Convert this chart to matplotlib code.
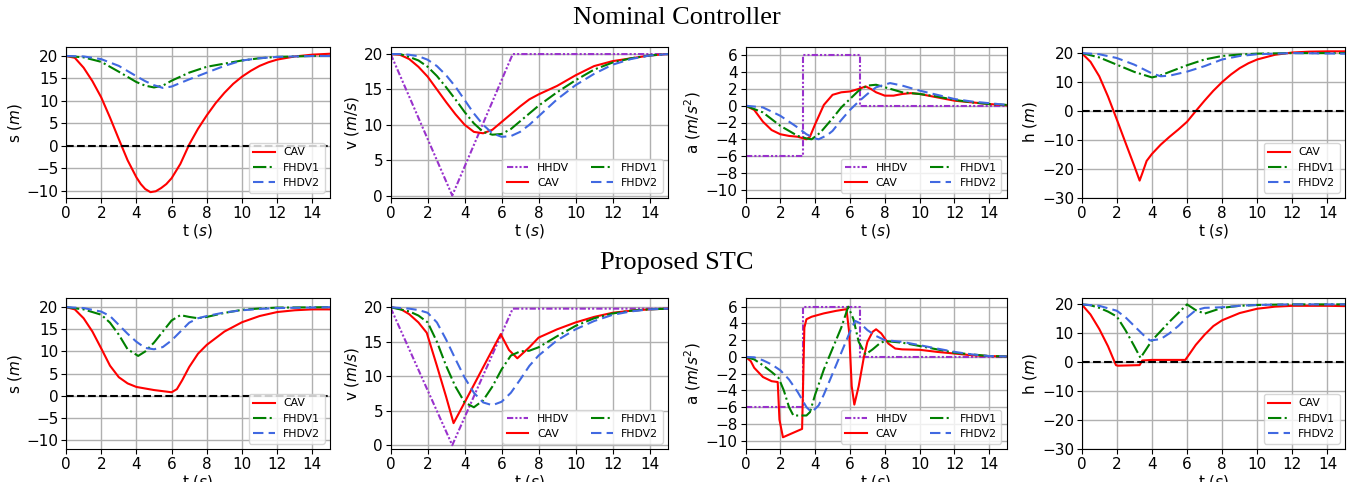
import matplotlib
matplotlib.use("Agg")
import matplotlib.pyplot as plt

# ---------------- Data ----------------
# HHDV (leading human-driven vehicle) profiles
t_hhdv_v = [0, 3.33, 6.6, 15]
v_hhdv_nom = [20, 0, 20, 20]
v_hhdv_stc = [19.9, 0, 19.8, 19.8]
t_hhdv_a = [0, 3.3, 3.3, 6.55, 6.55, 15]
a_hhdv = [-6, -6, 6, 6, 0, 0]

# ---- Nominal controller ----
t_s_nom_cav = [0, 0.5, 1, 1.5, 2, 2.5, 3, 3.5, 4, 4.25, 4.5, 4.8, 5.1, 5.4, 5.7, 6, 6.5, 7, 7.5, 8, 8.5, 9, 9.5, 10, 10.5, 11, 11.5, 12, 13, 14, 15]
s_nom_cav = [20, 19.6, 17.4, 14.4, 10.8, 6.3, 1.5, -3.2, -7.0, -8.5, -9.6, -10.3, -10.1, -9.4, -8.5, -7.2, -4.0, 0.3, 3.8, 6.8, 9.5, 11.8, 13.8, 15.4, 16.7, 17.8, 18.6, 19.2, 19.9, 20.3, 20.5]
t_s_nom_f = [0, 1, 2, 3, 4, 4.5, 5, 5.5, 6, 7, 8, 9, 10, 11, 12, 14, 15]
s_nom_f1 = [20, 19.7, 18.7, 16.5, 14.2, 13.4, 13.0, 13.4, 14.5, 16.3, 17.6, 18.3, 19.0, 19.5, 19.8, 20.0, 20.0]
s_nom_f2 = [20, 19.9, 19.3, 17.8, 15.5, 14.4, 13.5, 12.9, 13.2, 14.8, 16.3, 17.8, 19.0, 19.5, 19.8, 20.0, 20.0]

t_v_nom = [0, 0.5, 1, 1.5, 2, 2.5, 3, 3.5, 4, 4.5, 5, 5.5, 6, 6.5, 7, 7.5, 8, 9, 10, 11, 12, 13, 14, 15]
v_nom_cav = [20, 19.9, 19.3, 18.2, 16.8, 15.0, 13.2, 11.5, 10.0, 9.0, 8.8, 9.3, 10.4, 11.5, 12.6, 13.6, 14.3, 15.5, 17.0, 18.3, 19.0, 19.4, 19.8, 20]
v_nom_f1 = [20, 20.0, 19.6, 19.1, 18.2, 16.9, 15.3, 13.6, 11.8, 10.2, 9.0, 8.6, 8.7, 9.4, 10.5, 11.6, 12.7, 14.6, 16.3, 17.8, 18.8, 19.4, 19.8, 20]
v_nom_f2 = [20, 20.0, 19.9, 19.7, 19.2, 18.3, 17.0, 15.4, 13.5, 11.6, 10.0, 8.8, 8.3, 8.4, 9.0, 10.0, 11.2, 13.6, 15.6, 17.2, 18.5, 19.3, 19.8, 20]

t_a_nom_cav = [0, 0.5, 1, 1.5, 2, 2.5, 3, 3.5, 3.7, 4, 4.5, 5, 5.5, 6, 6.5, 6.9, 7.2, 7.5, 8, 8.5, 9, 9.5, 10, 11, 12, 13, 14, 15]
a_nom_cav = [0, -0.5, -1.9, -2.9, -3.4, -3.6, -3.7, -4.0, -3.7, -2.2, 0.1, 1.3, 1.6, 1.7, 2.0, 2.3, 2.0, 1.6, 1.2, 1.2, 1.4, 1.5, 1.4, 1.0, 0.6, 0.4, 0.2, 0.05]
t_a_nom_f1 = [0, 1, 2, 3, 3.5, 3.8, 4.3, 5, 5.5, 6, 6.5, 7, 7.5, 8, 9, 10, 11, 12, 13, 14, 15]
a_nom_f1 = [0, -0.8, -2.4, -3.6, -3.9, -4.0, -3.2, -1.5, -0.2, 0.8, 1.8, 2.4, 2.5, 2.2, 1.6, 1.4, 1.1, 0.7, 0.4, 0.2, 0.1]
t_a_nom_f2 = [0, 1, 2, 3, 3.5, 4, 4.2, 4.7, 5, 5.5, 6, 6.5, 7, 7.5, 8.3, 9, 10, 11, 12, 13, 14, 15]
a_nom_f2 = [0, -0.2, -1.2, -2.6, -3.4, -3.9, -4.0, -3.5, -3.0, -1.7, -0.5, 0.5, 1.4, 2.2, 2.7, 2.4, 1.8, 1.3, 0.8, 0.5, 0.3, 0.1]

t_h_nom_cav = [0, 0.5, 1, 1.5, 2, 2.5, 3, 3.3, 3.45, 3.7, 4, 4.5, 5, 5.5, 6, 6.5, 7, 7.5, 8, 8.5, 9, 9.5, 10, 11, 12, 13, 14, 15]
h_nom_cav = [20, 17.0, 12.0, 5.0, -2.9, -11.0, -19.0, -24.0, -21.5, -17.2, -14.8, -11.6, -8.9, -6.4, -3.7, 0.0, 3.6, 7.0, 10.0, 12.6, 14.8, 16.5, 17.8, 19.4, 20.2, 20.5, 20.6, 20.6]
t_h_nom_f = [0, 1, 2, 3, 4, 4.5, 5, 6, 7, 8, 9, 10, 12, 15]
h_nom_f1 = [20, 18.5, 16.0, 13.5, 11.6, 12.3, 13.5, 15.8, 17.8, 19.0, 19.5, 19.8, 20.0, 20.0]
h_nom_f2 = [20, 19.6, 18.3, 16.0, 13.0, 12.0, 12.2, 13.6, 15.5, 17.8, 19.0, 19.6, 20.0, 19.8]

# ---- Proposed STC ----
t_s_stc_cav = [0, 0.5, 1, 1.5, 2, 2.5, 3, 3.5, 4, 5, 6, 6.3, 6.6, 7, 7.5, 8, 9, 10, 11, 12, 13, 14, 15]
s_stc_cav = [20, 19.5, 17.5, 14.5, 10.7, 6.8, 4.2, 2.8, 2.0, 1.3, 0.8, 1.5, 3.5, 6.5, 9.5, 11.5, 14.5, 16.6, 18.0, 18.9, 19.3, 19.5, 19.5]
t_s_stc_f1 = [0, 1, 2, 2.5, 3, 3.5, 4.1, 4.5, 5, 5.5, 6, 6.5, 7, 7.5, 8, 9, 10, 11, 12, 15]
s_stc_f1 = [20, 19.5, 18.3, 16.5, 13.8, 10.5, 9.0, 10.0, 12.0, 14.5, 17.0, 18.2, 17.8, 17.5, 17.8, 18.7, 19.4, 19.7, 19.9, 20.0]
t_s_stc_f2 = [0, 1, 2, 2.5, 3, 3.5, 4, 4.5, 5, 5.5, 6, 6.5, 7, 7.5, 8, 9, 10, 11, 12, 15]
s_stc_f2 = [20, 19.8, 19.0, 18.0, 16.0, 14.0, 12.2, 10.8, 10.5, 11.0, 12.5, 14.5, 16.5, 17.5, 18.0, 18.8, 19.3, 19.6, 19.8, 20.0]

t_v_stc_cav = [0, 0.5, 1, 1.5, 1.95, 2.5, 3, 3.4, 4, 5, 5.95, 6.4, 6.85, 7.5, 8, 9, 10, 11, 12, 13, 14, 15]
v_stc_cav = [20, 19.8, 19.0, 17.8, 16.3, 11.5, 7.0, 3.2, 6.2, 11.3, 16.1, 13.8, 12.6, 14.2, 15.6, 16.8, 17.8, 18.6, 19.2, 19.5, 19.7, 19.8]
t_v_stc_f = [0, 1, 1.5, 2, 2.5, 3, 3.5, 4, 4.5, 5, 5.5, 6, 6.5, 7, 7.5, 8, 9, 10, 11, 12, 13, 14, 15]
v_stc_f1 = [20, 19.4, 18.8, 17.8, 15.0, 11.5, 8.5, 6.2, 5.5, 6.5, 8.5, 11.0, 13.0, 13.6, 13.7, 14.2, 15.8, 17.3, 18.4, 19.1, 19.5, 19.7, 19.8]
v_stc_f2 = [20, 19.8, 19.6, 19.2, 17.8, 15.3, 12.5, 9.8, 7.6, 6.2, 5.8, 6.3, 7.6, 9.5, 11.5, 13.0, 15.2, 16.8, 18.0, 18.9, 19.4, 19.7, 19.8]

t_a_stc_cav = [0, 0.3, 0.5, 1, 1.5, 1.85, 1.95, 2.15, 3.25, 3.38, 3.5, 3.8, 4.5, 5.2, 5.8, 5.95, 6.1, 6.25, 6.5, 6.8, 7.0, 7.3, 7.5, 7.8, 8.2, 8.6, 9, 10, 11, 12, 13, 14, 15]
a_stc_cav = [0, -0.5, -1.3, -2.4, -2.9, -3.0, -7.5, -9.6, -8.6, 3.5, 4.5, 4.8, 5.2, 5.5, 5.7, 3.0, -3.5, -5.7, -3.5, 0.0, 1.8, 3.0, 3.3, 2.8, 1.6, 1.0, 0.9, 0.85, 0.6, 0.4, 0.2, 0.1, 0.05]
t_a_stc_f1 = [0, 0.5, 1, 1.5, 1.9, 2.2, 2.5, 2.75, 3, 3.5, 3.7, 4, 4.5, 5, 5.5, 5.9, 6.2, 6.5, 6.9, 7.3, 7.7, 8, 9, 10, 11, 12, 13, 14, 15]
a_stc_f1 = [0, -0.3, -1.0, -1.8, -2.5, -4.0, -6.0, -7.0, -7.0, -7.0, -6.6, -4.5, -1.5, 1.0, 3.5, 6.0, 4.5, 1.8, 0.3, 0.9, 1.6, 1.9, 1.7, 1.3, 0.9, 0.5, 0.3, 0.1, 0.05]
t_a_stc_f2 = [0, 0.5, 1, 1.5, 2, 2.5, 3, 3.5, 3.8, 4.2, 4.5, 5, 5.5, 6, 6.3, 6.6, 7, 7.5, 8, 9, 10, 11, 12, 13, 14, 15]
a_stc_f2 = [0, -0.05, -0.4, -0.9, -1.6, -2.7, -4.2, -6.0, -6.6, -5.8, -4.5, -2.0, 0.5, 3.0, 4.3, 4.0, 3.2, 2.5, 2.0, 1.8, 1.4, 1.0, 0.6, 0.3, 0.1, 0.05]

t_h_stc_cav = [0, 0.5, 1, 1.5, 1.95, 2.05, 3.3, 3.45, 4, 5.9, 6.1, 6.5, 7, 7.5, 8, 9, 10, 11, 12, 14, 15]
h_stc_cav = [20, 16.5, 11.5, 5.5, -1.0, -1.2, -1.0, 0.6, 0.8, 0.8, 2.5, 6.0, 9.5, 12.5, 14.5, 17.0, 18.5, 19.2, 19.5, 19.5, 19.4]
t_h_stc_f1 = [0, 0.5, 1, 1.5, 2, 2.5, 3, 3.35, 4, 5, 5.5, 6, 6.5, 7, 8, 9, 10, 12, 15]
h_stc_f1 = [20, 19.7, 18.8, 17.5, 15.8, 11.0, 5.5, 1.5, 7.5, 14.0, 17.0, 20.0, 18.0, 16.8, 18.8, 19.5, 19.8, 20.0, 20.0]
t_h_stc_f2 = [0, 1, 2, 2.5, 3, 3.5, 3.9, 4.5, 5, 5.5, 6, 6.5, 7, 8, 9, 10, 12, 15]
h_stc_f2 = [20, 19.5, 17.8, 15.5, 12.5, 9.5, 7.5, 8.0, 10.0, 12.5, 15.5, 18.0, 18.8, 19.0, 19.5, 19.8, 20.0, 20.0]

x_ticks = [0, 2, 4, 6, 8, 10, 12, 14]
s_ticks = [-10, -5, 0, 5, 10, 15, 20]
v_ticks = [0, 5, 10, 15, 20]
a_ticks = [-10, -8, -6, -4, -2, 0, 2, 4, 6]
h_ticks = [-30, -20, -10, 0, 10, 20]

row_titles = ["Nominal Controller", "Proposed STC"]

# ---------------- Styles ----------------
C_CAV = "red"
C_F1 = "green"
C_F2 = "royalblue"
C_H = "darkorchid"
LS_F1 = "-."
LS_F2 = (0, (5, 2.5))
LS_H = (0, (3, 1, 1, 1, 1, 1))
LW = 1.5

plt.rcParams.update({
    "font.family": "DejaVu Sans",
    "font.size": 11,
    "mathtext.fontset": "dejavusans",
})

W, H = 1351, 482
fig = plt.figure(figsize=(W / 100, H / 100), dpi=100)

col_l = [66, 390.7, 745.5, 1081.7]
col_r = [330, 668, 1006.7, 1345]
row_t = [47, 298.3]
row_b = [198, 449]

def make_ax(r, c):
    l, rr = col_l[c], col_r[c]
    t, b = row_t[r], row_b[r]
    return fig.add_axes([l / W, 1 - b / H, (rr - l) / W, (b - t) / H])

def style(ax, ylabel, yticks, ylim):
    ax.set_xlim(0, 15)
    ax.set_xticks(x_ticks)
    ax.set_yticks(yticks)
    ax.set_ylim(*ylim)
    ax.grid(True, color="#b0b0b0", linewidth=1.0)
    ax.set_axisbelow(True)
    ax.set_xlabel("t ($s$)", labelpad=1)
    ax.set_ylabel(ylabel, labelpad=2)
    ax.tick_params(labelsize=11, pad=2)

def leg3(ax):
    ax.legend(loc="lower right", fontsize=7.8, ncol=1)

def leg4(ax, hh, cav, f1, f2):
    ax.legend([hh, cav, f1, f2], ["HHDV", "CAV", "FHDV1", "FHDV2"],
              loc="lower right", fontsize=7.8, ncol=2)

datasets = [
    dict(s=(t_s_nom_cav, s_nom_cav, t_s_nom_f, s_nom_f1, t_s_nom_f, s_nom_f2),
         v=(t_v_nom, v_nom_cav, t_v_nom, v_nom_f1, t_v_nom, v_nom_f2, v_hhdv_nom),
         a=(t_a_nom_cav, a_nom_cav, t_a_nom_f1, a_nom_f1, t_a_nom_f2, a_nom_f2),
         h=(t_h_nom_cav, h_nom_cav, t_h_nom_f, h_nom_f1, t_h_nom_f, h_nom_f2),
         ylims=[(-11.6, 22.0), (-0.35, 21.0), (-11.0, 7.0), (-30, 22.1)]),
    dict(s=(t_s_stc_cav, s_stc_cav, t_s_stc_f1, s_stc_f1, t_s_stc_f2, s_stc_f2),
         v=(t_v_stc_cav, v_stc_cav, t_v_stc_f, v_stc_f1, t_v_stc_f, v_stc_f2, v_hhdv_stc),
         a=(t_a_stc_cav, a_stc_cav, t_a_stc_f1, a_stc_f1, t_a_stc_f2, a_stc_f2),
         h=(t_h_stc_cav, h_stc_cav, t_h_stc_f1, h_stc_f1, t_h_stc_f2, h_stc_f2),
         ylims=[(-12.0, 22.0), (-0.55, 21.3), (-11.0, 7.0), (-30, 22.1)]),
]

for r, d in enumerate(datasets):
    # spacing panel
    ax = make_ax(r, 0)
    tc, yc, t1, y1, t2, y2 = d["s"]
    ax.plot(tc, yc, color=C_CAV, lw=LW, label="CAV")
    ax.plot(t1, y1, color=C_F1, lw=LW, ls=LS_F1, label="FHDV1")
    ax.plot(t2, y2, color=C_F2, lw=LW, ls=LS_F2, label="FHDV2")
    ax.axhline(0, color="black", lw=1.5, ls="--")
    style(ax, "s ($m$)", s_ticks, d["ylims"][0])
    leg3(ax)

    # velocity panel
    ax = make_ax(r, 1)
    tc, yc, t1, y1, t2, y2, vh = d["v"]
    hh, = ax.plot(t_hhdv_v, vh, color=C_H, lw=LW, ls=LS_H)
    cav, = ax.plot(tc, yc, color=C_CAV, lw=LW)
    f1, = ax.plot(t1, y1, color=C_F1, lw=LW, ls=LS_F1)
    f2, = ax.plot(t2, y2, color=C_F2, lw=LW, ls=LS_F2)
    style(ax, "v ($m/s$)", v_ticks, d["ylims"][1])
    leg4(ax, hh, cav, f1, f2)

    # acceleration panel
    ax = make_ax(r, 2)
    tc, yc, t1, y1, t2, y2 = d["a"]
    hh, = ax.plot(t_hhdv_a, a_hhdv, color=C_H, lw=LW, ls=LS_H)
    cav, = ax.plot(tc, yc, color=C_CAV, lw=LW)
    f1, = ax.plot(t1, y1, color=C_F1, lw=LW, ls=LS_F1)
    f2, = ax.plot(t2, y2, color=C_F2, lw=LW, ls=LS_F2)
    style(ax, "a ($m/s^2$)", a_ticks, d["ylims"][2])
    leg4(ax, hh, cav, f1, f2)

    # headway panel
    ax = make_ax(r, 3)
    tc, yc, t1, y1, t2, y2 = d["h"]
    ax.plot(tc, yc, color=C_CAV, lw=LW, label="CAV")
    ax.plot(t1, y1, color=C_F1, lw=LW, ls=LS_F1, label="FHDV1")
    ax.plot(t2, y2, color=C_F2, lw=LW, ls=LS_F2, label="FHDV2")
    ax.axhline(0, color="black", lw=1.5, ls="--")
    style(ax, "h ($m$)", h_ticks, d["ylims"][3])
    leg3(ax)

fig.text(677 / W, 1 - 18 / H, row_titles[0], ha="center", va="center",
         family="Liberation Serif", fontsize=19)
fig.text(677 / W, 1 - 263 / H, row_titles[1], ha="center", va="center",
         family="Liberation Serif", fontsize=19)

fig.savefig("out.png", dpi=100)
